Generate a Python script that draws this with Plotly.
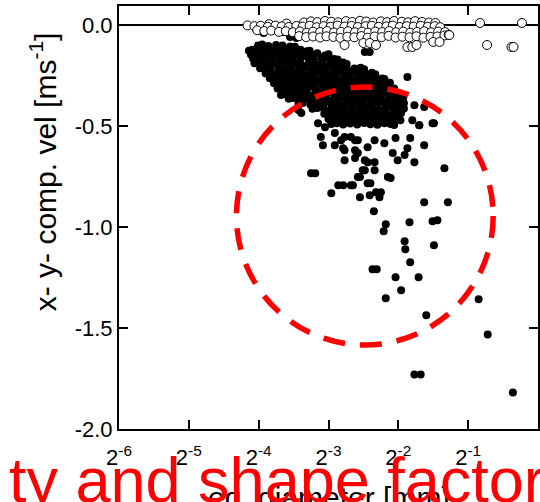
import numpy as np
import plotly.graph_objects as go

# ---- y-component velocity (filled dots): dense core of the cloud ----
# diameters stored as log2(d / mm), velocities in m/s
vy_core_log2d = [
    -4.01, -3.95, -3.86, -3.75, -3.66, -3.55, -3.48,
    -4.14, -4.09, -3.99, -3.91, -3.80, -3.70, -3.61, -3.51, -3.40, -3.31, -3.27,
    -4.11, -4.04, -3.95, -3.86, -3.74, -3.65, -3.55, -3.46, -3.35, -3.25, -3.16, -3.05, -3.00,
    -4.08, -4.01, -3.90, -3.81, -3.70, -3.60, -3.51, -3.40, -3.30, -3.21, -3.10, -3.01, -2.92, -2.87,
    -4.06, -3.99, -3.89, -3.79, -3.68, -3.59, -3.48, -3.39, -3.28, -3.19, -3.09, -2.98, -2.89, -2.79, -2.74,
    -3.98, -3.92, -3.83, -3.72, -3.62, -3.53, -3.42, -3.33, -3.23, -3.12, -3.03, -2.93, -2.83, -2.73, -2.63, -2.54, -2.49,
    -3.90, -3.84, -3.76, -3.66, -3.56, -3.47, -3.37, -3.27, -3.17, -3.07, -2.98, -2.88, -2.78, -2.68, -2.58, -2.48, -2.38, -2.33,
    -3.84, -3.79, -3.69, -3.59, -3.49, -3.40, -3.30, -3.21, -3.11, -3.01, -2.91, -2.81, -2.72, -2.61, -2.52, -2.42, -2.32, -2.23, -2.20,
    -3.78, -3.72, -3.63, -3.53, -3.43, -3.34, -3.24, -3.14, -3.04, -2.95, -2.85, -2.75, -2.65, -2.56, -2.46, -2.36, -2.26, -2.17, -2.12,
    -3.73, -3.67, -3.58, -3.48, -3.38, -3.29, -3.19, -3.09, -2.99, -2.90, -2.80, -2.70, -2.61, -2.51, -2.41, -2.31, -2.21, -2.12, -2.06,
    -3.65, -3.60, -3.50, -3.41, -3.31, -3.21, -3.11, -3.02, -2.92, -2.82, -2.72, -2.63, -2.53, -2.43, -2.34, -2.24, -2.14, -2.04, -1.99,
    -3.57, -3.51, -3.42, -3.32, -3.22, -3.13, -3.03, -2.93, -2.84, -2.74, -2.64, -2.54, -2.45, -2.35, -2.25, -2.15, -2.06, -1.98, -1.93,
    -3.43, -3.37, -3.26, -3.17, -3.07, -2.97, -2.88, -2.78, -2.68, -2.58, -2.49, -2.39, -2.29, -2.19, -2.10, -2.00, -1.92,
    -3.23, -3.16, -3.06, -2.96, -2.86, -2.77, -2.67, -2.57, -2.47, -2.37, -2.28, -2.18, -2.08, -1.98, -1.92,
    -3.06, -3.00, -2.90, -2.80, -2.71, -2.61, -2.51, -2.42, -2.32, -2.22, -2.12, -2.02, -1.96,
    -3.00, -2.94, -2.84, -2.74, -2.64, -2.55, -2.45, -2.35, -2.25, -2.16, -2.06, -1.99,
    -2.96, -2.88, -2.79, -2.69, -2.59, -2.49, -2.40, -2.30, -2.20, -2.11, -2.06,
]
vy_core_vel = [
    -0.102, -0.097, -0.104, -0.099, -0.101, -0.106, -0.108,
    -0.128, -0.122, -0.126, -0.120, -0.129, -0.124, -0.121, -0.127, -0.123, -0.130, -0.128,
    -0.147, -0.142, -0.150, -0.144, -0.141, -0.148, -0.145, -0.143, -0.149, -0.146, -0.140, -0.151, -0.145,
    -0.166, -0.161, -0.168, -0.163, -0.170, -0.162, -0.167, -0.164, -0.160, -0.169, -0.165, -0.163, -0.168, -0.171,
    -0.190, -0.186, -0.194, -0.188, -0.192, -0.185, -0.191, -0.195, -0.187, -0.193, -0.189, -0.196, -0.190, -0.186, -0.193,
    -0.214, -0.218, -0.211, -0.216, -0.220, -0.213, -0.217, -0.212, -0.219, -0.215, -0.210, -0.218, -0.214, -0.221, -0.216, -0.212, -0.219,
    -0.240, -0.236, -0.243, -0.238, -0.242, -0.235, -0.241, -0.244, -0.237, -0.240, -0.245, -0.239, -0.236, -0.243, -0.238, -0.241, -0.236, -0.244,
    -0.264, -0.268, -0.261, -0.266, -0.270, -0.263, -0.267, -0.262, -0.269, -0.265, -0.260, -0.268, -0.264, -0.271, -0.266, -0.262, -0.269, -0.265, -0.267,
    -0.289, -0.293, -0.287, -0.291, -0.295, -0.288, -0.292, -0.286, -0.294, -0.290, -0.287, -0.293, -0.289, -0.296, -0.291, -0.288, -0.294, -0.290, -0.286,
    -0.315, -0.311, -0.318, -0.313, -0.317, -0.310, -0.316, -0.319, -0.312, -0.315, -0.320, -0.314, -0.311, -0.318, -0.313, -0.316, -0.312, -0.319, -0.314,
    -0.340, -0.344, -0.337, -0.342, -0.338, -0.345, -0.341, -0.336, -0.343, -0.339, -0.346, -0.340, -0.337, -0.344, -0.341, -0.338, -0.343, -0.339, -0.342,
    -0.365, -0.361, -0.368, -0.363, -0.367, -0.360, -0.366, -0.369, -0.362, -0.364, -0.370, -0.365, -0.361, -0.368, -0.363, -0.366, -0.362, -0.369, -0.364,
    -0.390, -0.386, -0.393, -0.388, -0.392, -0.385, -0.391, -0.394, -0.387, -0.390, -0.395, -0.389, -0.386, -0.393, -0.388, -0.391, -0.387,
    -0.415, -0.411, -0.418, -0.413, -0.417, -0.410, -0.416, -0.419, -0.412, -0.415, -0.420, -0.414, -0.411, -0.418, -0.413,
    -0.440, -0.436, -0.443, -0.438, -0.442, -0.435, -0.441, -0.444, -0.437, -0.440, -0.445, -0.439, -0.436,
    -0.465, -0.461, -0.468, -0.463, -0.467, -0.460, -0.466, -0.469, -0.462, -0.465, -0.470, -0.464,
    -0.490, -0.486, -0.493, -0.488, -0.492, -0.485, -0.491, -0.494, -0.487, -0.490, -0.495,
]

# ---- y-component velocity: sparser dots around and below the core ----
vy_tail_log2d = [
    -4.03, -3.93, -3.65, -3.55, -3.46, -2.48, -2.41,
    -3.68, -3.53, -3.41, -3.29, -3.25, -3.43, -3.39, -1.87, -1.77, -1.63, -1.70, -1.97, -1.51,
    -3.15, -3.05, -3.11, -3.08, -2.91, -2.91, -2.82, -2.77, -2.77, -2.62, -2.58, -2.48,
    -2.86, -2.79, -2.65, -2.55, -2.51, -1.80, -1.70, -1.49, -1.63, -1.83, -1.87, -1.91,
    -2.01, -1.77, -2.04, -2.08, -2.20, -2.34, -2.44, -2.58, -2.68, -2.77, -2.79, -2.62,
    -2.62, -2.44, -2.34, -2.48, -2.34, -2.58, -2.40, -2.15, -2.11, -2.68, -1.34,
    -3.25, -3.19, -2.96, -2.55, -2.44, -2.41, -2.32, -2.25, -2.27, -2.35, -2.18, -2.21,
    -1.63, -1.29, -1.84, -1.51, -1.44, -1.91, -1.90, -1.49, -1.83, -2.37, -2.31,
    -2.04, -1.71, -1.96, -2.18, -1.60, -0.85, -0.72, -1.77, -1.68, -0.36,
]
vy_tail_vel = [
    -0.025, -0.040, -0.035, -0.060, -0.064, -0.134, -0.134,
    -0.347, -0.357, -0.372, -0.357, -0.387, -0.421, -0.436, -0.258, -0.397, -0.406, -0.496, -0.471, -0.486,
    -0.486, -0.506, -0.555, -0.595, -0.535, -0.595, -0.570, -0.620, -0.669, -0.570, -0.634, -0.669,
    -0.793, -0.793, -0.793, -0.753, -0.719, -0.471, -0.496, -0.486, -0.595, -0.560, -0.610, -0.644,
    -0.669, -0.679, -0.560, -0.634, -0.585, -0.570, -0.605, -0.570, -0.555, -0.555, -0.610, -0.620,
    -0.659, -0.679, -0.679, -0.719, -0.719, -0.753, -0.783, -0.753, -0.758, -0.793, -0.709,
    -0.734, -0.734, -0.833, -0.853, -0.783, -0.843, -0.828, -0.828, -0.853, -0.922, -0.986, -1.021,
    -0.877, -0.877, -0.976, -0.971, -0.967, -1.071, -1.110, -1.090, -1.175, -1.209, -1.209,
    -1.249, -1.249, -1.313, -1.353, -1.437, -1.358, -1.532, -1.730, -1.730, -1.819,
]

# ---- x-component velocity (open circles) ----
vx_log2d = [
    -3.85, -3.60, -3.35, -3.25, -3.16, -3.05, -2.96, -2.86, -2.75, -2.66, -2.55,
    -2.46, -2.36, -2.25, -2.16, -2.06, -1.95, -1.86, -1.76, -1.66, -1.56, -1.47,
    -4.16, -4.06, -3.97, -3.87, -3.76, -3.67, -3.57, -3.46, -3.37, -3.27, -3.17,
    -3.07, -2.97, -2.87, -2.77, -2.67, -2.58, -2.47, -2.38, -2.28, -2.17, -2.08,
    -1.98, -1.88, -1.78, -1.68, -1.58, -1.48, -1.40,
    -4.02, -3.92, -3.82, -3.71, -3.61, -3.51, -3.41, -3.31, -3.22, -3.12, -3.02,
    -2.92, -2.82, -2.72, -2.62, -2.52, -2.43, -2.33, -2.23, -2.13, -2.03, -1.93,
    -1.83, -1.73, -1.63, -1.53, -1.43, -1.33,
    -3.42, -3.32, -3.22, -3.12, -3.03, -2.93, -2.83, -2.73, -2.63, -2.53, -2.44,
    -2.34, -2.24, -2.14, -2.04, -1.94, -1.84, -1.74, -1.64, -1.54, -1.44, -1.34, -1.28,
    -2.77, -2.50, -2.41, -2.32, -1.87, -1.80, -1.74, -1.50, -1.41, -1.27,
    -0.83, -0.23, -0.73, -0.38, -0.35,
]
vx_vel = [
    0.004, 0.007, 0.012, 0.018, 0.014, 0.020, 0.016, 0.013, 0.019, 0.015, 0.021,
    0.017, 0.012, 0.018, 0.014, 0.020, 0.016, 0.013, 0.019, 0.015, 0.012, 0.010,
    -0.002, -0.006, -0.004, -0.009, -0.003, -0.007, -0.010, -0.005, -0.008, -0.004, -0.011,
    -0.006, -0.009, -0.003, -0.008, -0.005, -0.010, -0.006, -0.004, -0.009, -0.007, -0.003,
    -0.010, -0.006, -0.008, -0.004, -0.009, -0.006, -0.011,
    -0.026, -0.030, -0.028, -0.034, -0.031, -0.036, -0.032, -0.038, -0.033, -0.035, -0.030,
    -0.037, -0.034, -0.031, -0.036, -0.033, -0.038, -0.032, -0.035, -0.030, -0.036, -0.033,
    -0.038, -0.034, -0.031, -0.036, -0.033, -0.035,
    -0.055, -0.060, -0.057, -0.062, -0.056, -0.059, -0.064, -0.058, -0.061, -0.055, -0.063,
    -0.057, -0.060, -0.054, -0.062, -0.058, -0.061, -0.056, -0.063, -0.059, -0.057, -0.052, -0.048,
    -0.099, -0.089, -0.089, -0.099, -0.109, -0.109, -0.099, -0.084, -0.084, -0.050,
    0.010, 0.010, -0.099, -0.109, -0.109,
]

# axis ticks
x_tick_exponents = [-6, -5, -4, -3, -2, -1, 0]
y_tick_values = [-2.0, -1.5, -1.0, -0.5, 0.0]
y_tick_labels = ["-2.0", "-1.5", "-1.0", "-0.5", "0.0"]

FONT = "Liberation Sans, Arial, Helvetica, sans-serif"

vy_diam = 2.0 ** np.array(vy_core_log2d + vy_tail_log2d)
vy_v = np.array(vy_core_vel + vy_tail_vel)
vx_diam = 2.0 ** np.array(vx_log2d)
vx_v = np.array(vx_vel)

fig = go.Figure()
fig.add_trace(go.Scatter(
    x=vy_diam, y=vy_v, mode="markers", name="y-comp.",
    marker=dict(color="black", size=8, line=dict(width=0)),
))
fig.add_trace(go.Scatter(
    x=vx_diam, y=vx_v, mode="markers", name="x-comp.",
    marker=dict(color="white", size=9, line=dict(color="black", width=1)),
))

axis_common = dict(
    showgrid=False, showline=True, linecolor="black", linewidth=2,
    mirror="ticks", ticks="inside", ticklen=9, tickwidth=1.5, tickcolor="black",
    tickfont=dict(family=FONT, size=22, color="black"),
)

fig.update_xaxes(
    type="log",
    range=[np.log10(2.0 ** -6), np.log10(2.0 ** 0)],
    tickvals=[2.0 ** e for e in x_tick_exponents],
    ticktext=[f"2<sup>{e}</sup>" for e in x_tick_exponents],
    ticklabelstandoff=8,
    **axis_common,
)
fig.update_yaxes(
    range=[-2.0, 0.094],
    tickvals=y_tick_values, ticktext=y_tick_labels,
    zeroline=True, zerolinecolor="black", zerolinewidth=2,
    **axis_common,
)

# highlight ring around the fast, large particles
fig.add_shape(
    type="circle", xref="paper", yref="paper",
    x0=0.2803, x1=0.8931, y0=0.1985, y1=0.8085,
    line=dict(color="#ff0000", width=5.5, dash="22px,15px"),
)

fig.add_annotation(
    text="x- y- comp. vel [ms<sup>-1</sup>]", textangle=-90,
    xref="paper", yref="paper", x=-0.1805, y=0.6078,
    xanchor="center", yanchor="middle", showarrow=False,
    font=dict(family=FONT, size=30, color="black"),
)
fig.add_annotation(
    text="eq. diameter [mm]",
    xref="paper", yref="paper", x=0.5, y=-0.118,
    xanchor="center", yanchor="top", showarrow=False,
    font=dict(family=FONT, size=30, color="black"),
)
fig.add_annotation(
    text="ty and shape factor",
    xref="paper", yref="paper", x=-0.2684, y=-0.0320,
    xanchor="left", yanchor="top", showarrow=False,
    font=dict(family=FONT, size=63, color="#ff0000"),
)

fig.update_layout(
    width=540, height=502,
    margin=dict(l=119, r=0, t=6, b=73),
    plot_bgcolor="white", paper_bgcolor="white",
    showlegend=False,
)

fig.write_html("out.html")
